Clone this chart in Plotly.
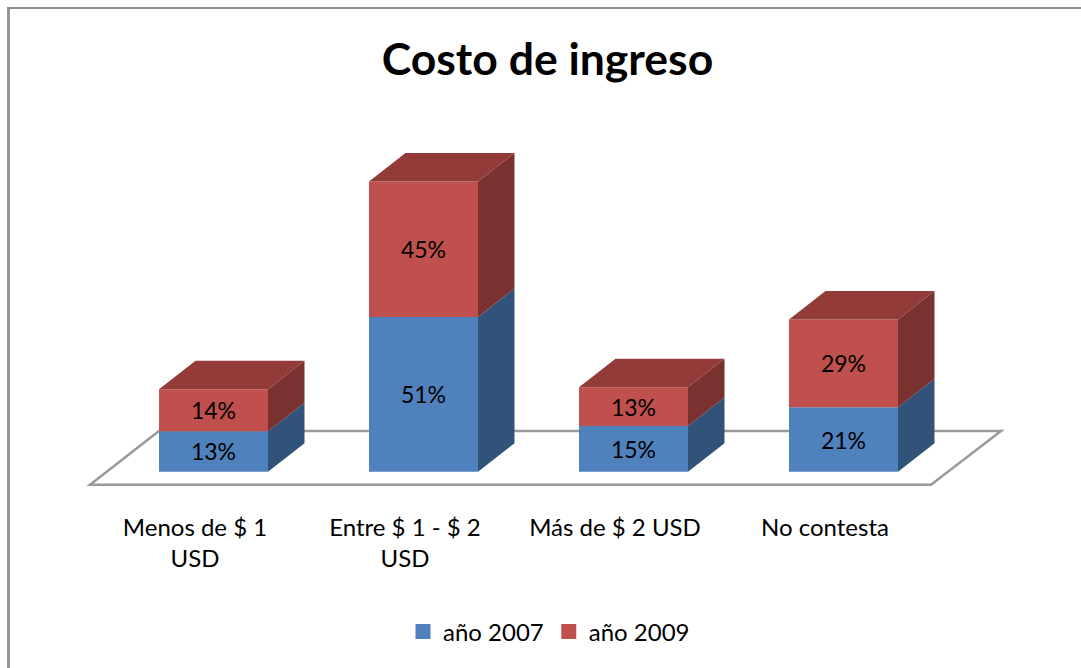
import plotly.graph_objects as go

categories = ["Menos de $ 1<br>USD", "Entre $ 1 - $ 2<br>USD", "Más de $ 2 USD", "No contesta"]
# heights; labels show them rounded to whole percent
values_2007 = [13.4, 51.2, 15.1, 21.3]
values_2009 = [13.9, 44.9, 12.9, 29.1]
series_names = ["año 2007", "año 2009"]

W, H = 1081, 668
PLOT_BOTTOM = 490
BASE_PX = 471.7
PX_PER_UNIT = 3.02
PX_PER_CAT = 210
FIRST_CENTER = 213.5
BAR_W = 109 / PX_PER_CAT
DX = 36.5 / PX_PER_CAT
DY = 28.5 / PX_PER_UNIT
LABEL_SHIFT = 18.5 / PX_PER_CAT
FONT = "Lato"

BLUE, RED = "#4F81BD", "#C0504D"
BLUE_SIDE, RED_SIDE, RED_TOP = "#325379", "#7A3230", "#923B39"

xs = list(range(len(categories)))
bottoms = values_2007
tops = [a + b for a, b in zip(values_2007, values_2009)]


def side(lo, hi):
    px, py = [], []
    for x, a, b in zip(xs, lo, hi):
        r = x + BAR_W / 2
        px += [r, r + DX, r + DX, r, r, None]
        py += [a, a + DY, b + DY, b, a, None]
    return px, py


def top(hi):
    px, py = [], []
    for x, b in zip(xs, hi):
        l, r = x - BAR_W / 2, x + BAR_W / 2
        px += [l, r, r + DX, l + DX, l, None]
        py += [b, b, b + DY, b + DY, b, None]
    return px, py


fig = go.Figure()
for name, vals, base, color in [(series_names[0], values_2007, None, BLUE), (series_names[1], values_2009, bottoms, RED)]:
    fig.add_bar(
        x=xs, y=vals, base=base, name=name, width=BAR_W, marker=dict(color=color, line_width=0),
        text=[f"{v:.0f}%" for v in vals], textposition="inside", insidetextanchor="middle", textangle=0,
        insidetextfont=dict(family=FONT, size=23, color="black"), hoverinfo="skip", showlegend=False,
    )

for (px, py), color in [
    (side([0] * 4, bottoms), BLUE_SIDE),
    (side(bottoms, tops), RED_SIDE),
    (top(tops), RED_TOP),
]:
    fig.add_scatter(x=px, y=py, mode="lines", fill="toself", fillcolor=color,
                    line=dict(width=0, color=color), showlegend=False, hoverinfo="skip")

for name, color in zip(series_names, [BLUE, RED]):
    fig.add_scatter(x=[None], y=[None], mode="markers", name=name,
                    marker=dict(symbol="square", size=15, color=color), hoverinfo="skip")

px2x = lambda p: (p - FIRST_CENTER) / PX_PER_CAT
py2y = lambda p: (BASE_PX - p) / PX_PER_UNIT

floor = (f"M {px2x(90)} {py2y(484.7)} L {px2x(931)} {py2y(484.7)} "
         f"L {px2x(1001)} {py2y(431)} L {px2x(159)} {py2y(431)} Z")

fig.update_layout(
    width=W, height=H,
    margin=dict(l=0, r=0, t=0, b=H - PLOT_BOTTOM, autoexpand=False),
    paper_bgcolor="white", plot_bgcolor="rgba(0,0,0,0)",
    barmode="overlay",
    font=dict(family=FONT, size=24, color="black"),
    title=dict(text="<b>Costo de ingreso</b>", font=dict(family=FONT, size=44.5, color="black"),
               x=547.5 / W, xanchor="center", xref="paper", y=1 - 59 / H, yanchor="middle", yref="container"),
    xaxis=dict(range=[px2x(0), px2x(W)], tickmode="array", tickvals=[x - LABEL_SHIFT for x in xs], ticktext=categories,
               showgrid=False, zeroline=False, showline=False, ticks="", ticklabelstandoff=21,
               tickfont=dict(family=FONT, size=24), fixedrange=True),
    yaxis=dict(range=[py2y(PLOT_BOTTOM), py2y(0)], visible=False, fixedrange=True),
    legend=dict(orientation="h", x=549 / W, xanchor="center", y=(PLOT_BOTTOM - 632) / PLOT_BOTTOM, yanchor="middle",
                font=dict(family=FONT, size=24), bgcolor="rgba(0,0,0,0)", traceorder="normal"),
    shapes=[
        dict(type="path", path=floor, xref="x", yref="y", layer="below",
             fillcolor="white", line=dict(color="#9A9A9A", width=2.5)),
        dict(type="line", xref="paper", yref="paper", x0=8.5 / W, x1=8.5 / W,
             y0=(PLOT_BOTTOM - 7) / PLOT_BOTTOM, y1=(PLOT_BOTTOM - H) / PLOT_BOTTOM,
             line=dict(color="#959595", width=3), layer="above"),
        dict(type="line", xref="paper", yref="paper", x0=7 / W, x1=1,
             y0=(PLOT_BOTTOM - 8) / PLOT_BOTTOM, y1=(PLOT_BOTTOM - 8) / PLOT_BOTTOM,
             line=dict(color="#8C8C8C", width=2), layer="above"),
    ],
)

fig.write_html("out.html", config=dict(displayModeBar=False),
               post_script="document.body.style.margin='0';")
